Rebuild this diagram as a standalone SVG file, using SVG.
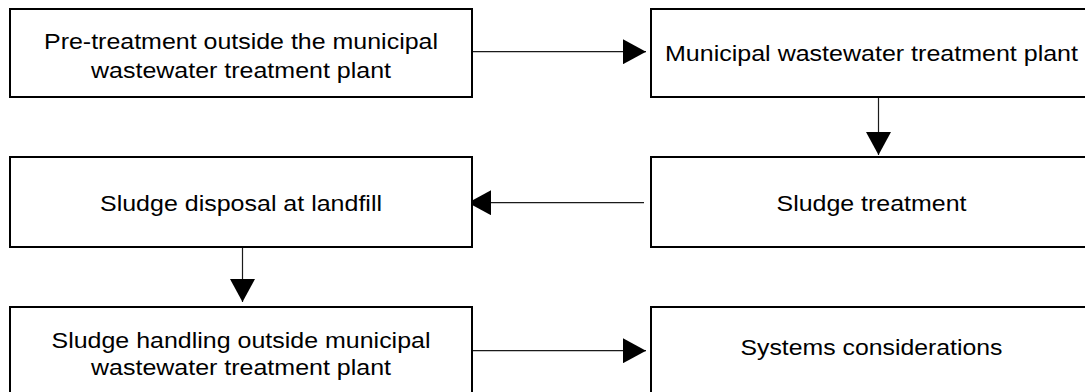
<svg xmlns="http://www.w3.org/2000/svg" width="1085" height="392" viewBox="0 0 1085 392">
  <style>
    .box { fill: #ffffff; stroke: #000000; stroke-width: 2; }
    .label { font-family: "Liberation Sans", Arial, sans-serif; font-size: 22.5px; fill: #000000; text-anchor: middle; }
    .link { stroke: #1a1a1a; stroke-width: 1.2; fill: none; marker-end: url(#head); }
  </style>
  <defs>
    <marker id="head" markerUnits="userSpaceOnUse" markerWidth="24" markerHeight="25" refX="23" refY="12.5" orient="auto">
      <path d="M0,0 L23,12.5 L0,25 Z" fill="#000000"/>
    </marker>
  </defs>

  <rect width="1085" height="392" fill="#ffffff"/>

  <!-- flow connectors -->
  <g id="connectors">
    <line class="link" x1="467" y1="51.7" x2="646" y2="51.7"/>
    <line class="link" x1="878.5" y1="97" x2="878.5" y2="155"/>
    <line class="link" x1="644" y1="202.7" x2="468" y2="202.7"/>
    <line class="link" x1="242.5" y1="247" x2="242.5" y2="302"/>
    <line class="link" x1="467" y1="350.7" x2="646" y2="350.7"/>
  </g>

  <g id="pretreatment">
    <rect class="box" x="10" y="9" width="462" height="88"/>
    <text class="label" x="241" y="49" textLength="394" lengthAdjust="spacingAndGlyphs">Pre-treatment outside the municipal</text>
    <text class="label" x="241" y="77.5" textLength="300" lengthAdjust="spacingAndGlyphs">wastewater treatment plant</text>
  </g>

  <g id="municipal-plant">
    <rect class="box" x="651" y="9" width="444" height="88"/>
    <text class="label" x="871.5" y="61" textLength="413" lengthAdjust="spacingAndGlyphs">Municipal wastewater treatment plant</text>
  </g>

  <g id="sludge-treatment">
    <rect class="box" x="651" y="157" width="444" height="90"/>
    <text class="label" x="871.5" y="211" textLength="190" lengthAdjust="spacingAndGlyphs">Sludge treatment</text>
  </g>

  <g id="sludge-disposal">
    <rect class="box" x="10" y="157" width="462" height="90"/>
    <text class="label" x="241" y="211" textLength="282" lengthAdjust="spacingAndGlyphs">Sludge disposal at landfill</text>
  </g>

  <g id="sludge-handling">
    <rect class="box" x="10" y="307" width="462" height="95"/>
    <text class="label" x="241" y="347.5" textLength="379" lengthAdjust="spacingAndGlyphs">Sludge handling outside municipal</text>
    <text class="label" x="241" y="375" textLength="300" lengthAdjust="spacingAndGlyphs">wastewater treatment plant</text>
  </g>

  <g id="systems">
    <rect class="box" x="651" y="307" width="444" height="95"/>
    <text class="label" x="871.5" y="355" textLength="262" lengthAdjust="spacingAndGlyphs">Systems considerations</text>
  </g>
</svg>
